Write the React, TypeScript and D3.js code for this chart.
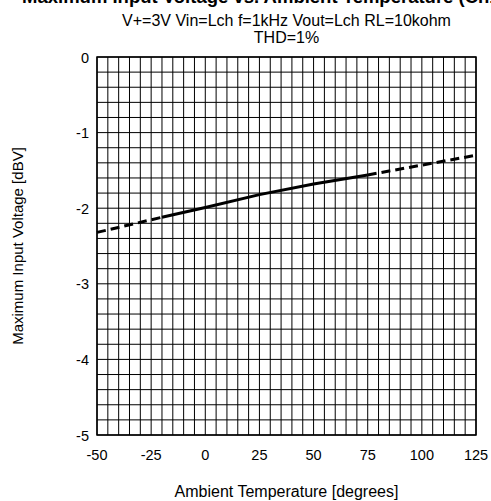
import React from "react";
import * as d3 from "d3";

const tempSolid = [-20, 0, 25, 50, 75];
const voltSolid = [-2.12, -1.99, -1.82, -1.68, -1.56];
const tempDashLeft = [-50, -20];
const voltDashLeft = [-2.32, -2.12];
const tempDashRight = [75, 100, 125];
const voltDashRight = [-1.56, -1.43, -1.3];
const xTicks = [-50, -25, 0, 25, 50, 75, 100, 125];
const yTicks = [0, -1, -2, -3, -4, -5];

const W = 491, H = 501;
const L = 97, R = 476, T = 57, B = 435;

export default function App() {
  const x = d3.scaleLinear().domain([-50, 125]).range([L, R]);
  const y = d3.scaleLinear().domain([-5, 0]).range([B, T]);
  const line = d3.line<[number, number]>().x(d => x(d[0])).y(d => y(d[1]));
  const zip = (a: number[], b: number[]) => a.map((v, i) => [v, b[i]] as [number, number]);
  const vGrid = d3.range(-50, 125.01, 5);
  const hGrid = d3.range(-5, 0.001, 0.2);
  const font = "'Liberation Sans', Arial, sans-serif";
  return (
    <svg width={W} height={H} style={{ position: "absolute", left: 0, top: 0 }} fontFamily={font}>
      <rect width={W} height={H} fill="white" />
      <text x={22} y={2.5} fontSize={18.5} fontWeight="bold">Maximum Input Voltage vs. Ambient Temperature (Ch1)</text>
      <text x={(L + R) / 2} y={25.5} fontSize={16} textAnchor="middle">V+=3V Vin=Lch f=1kHz Vout=Lch RL=10kohm</text>
      <text x={(L + R) / 2} y={43} fontSize={16} textAnchor="middle">THD=1%</text>
      {vGrid.map(v => (
        <line key={"v" + v} x1={x(v)} x2={x(v)} y1={T} y2={B} stroke="#000" strokeWidth={1} />
      ))}
      {hGrid.map(v => (
        <line key={"h" + v} x1={L} x2={R} y1={y(v)} y2={y(v)} stroke="#000" strokeWidth={1} />
      ))}
      <rect x={L} y={T} width={R - L} height={B - T} fill="none" stroke="#000" strokeWidth={1.5} />
      <path d={line(zip(tempDashLeft, voltDashLeft)) || ""} fill="none" stroke="#000" strokeWidth={3} strokeDasharray="9,5" />
      <path d={line(zip(tempSolid, voltSolid)) || ""} fill="none" stroke="#000" strokeWidth={3} />
      <path d={line(zip(tempDashRight, voltDashRight)) || ""} fill="none" stroke="#000" strokeWidth={3} strokeDasharray="9,5" />
      {xTicks.map(t => (
        <text key={"xt" + t} x={x(t)} y={460} fontSize={14.5} textAnchor="middle">{t}</text>
      ))}
      {yTicks.map(t => (
        <text key={"yt" + t} x={89} y={y(t) + 5.5} fontSize={14.5} textAnchor="end">{t}</text>
      ))}
      <text x={(L + R) / 2} y={497} fontSize={16} textAnchor="middle">Ambient Temperature [degrees]</text>
      <text transform={`translate(23,${(T + B) / 2}) rotate(-90)`} fontSize={15} textAnchor="middle">Maximum Input Voltage [dBV]</text>
    </svg>
  );
}
